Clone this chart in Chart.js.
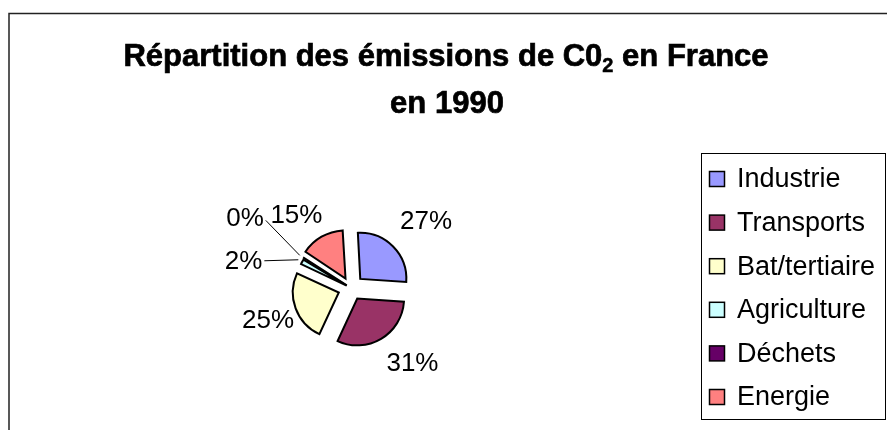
<!DOCTYPE html>
<html>
<head>
<meta charset="utf-8">
<script src="https://cdn.jsdelivr.net/npm/chart.js@4.4.1/dist/chart.umd.min.js"></script>
<style>
  html, body { margin: 0; padding: 0; background: #fff; }
  #wrap { width: 887px; height: 430px; }
</style>
</head>
<body>
<div id="wrap"><canvas id="chart" width="887" height="430"></canvas></div>
<script>
// data
const categories = ['Industrie', 'Transports', 'Bat/tertiaire', 'Agriculture', 'Déchets', 'Energie'];
const emissions = [27, 31, 25, 2, 0.4, 15];
const sliceColors = ['#9999FF', '#993366', '#FFFFCC', '#CCFFFF', '#660066', '#FF8080'];
const titleLine1 = ['Répartition des émissions de C0', '2', ' en France'];
const titleLine2 = 'en 1990';

const FONT = '"Liberation Sans", Arial, sans-serif';

function drawText(ctx, text, x, y, font, align, baseline, heavy) {
  ctx.save();
  ctx.font = font;
  ctx.textAlign = align || 'left';
  ctx.textBaseline = baseline || 'alphabetic';
  ctx.fillStyle = '#000';
  ctx.fillText(text, x, y);
  if (heavy) {
    // title looks heavier in the original
    ctx.strokeStyle = '#000';
    ctx.lineWidth = heavy;
    ctx.strokeText(text, x, y);
  }
  ctx.restore();
}

const framePlugin = {
  id: 'frame',
  beforeDraw(chart) {
    const ctx = chart.ctx;
    ctx.save();
    ctx.strokeStyle = '#222';
    ctx.lineWidth = 1.5;
    ctx.beginPath();
    ctx.moveTo(9, 440);
    ctx.lineTo(9, 13.5);
    ctx.lineTo(900, 13.5);
    ctx.stroke();
    ctx.restore();

    // title, with the subscript 2
    const big = 'bold 31px ' + FONT;
    const small = 'bold 20px ' + FONT;
    ctx.save();
    ctx.font = big;
    const w1 = ctx.measureText(titleLine1[0]).width;
    const w3 = ctx.measureText(titleLine1[2]).width;
    ctx.font = small;
    const w2 = ctx.measureText(titleLine1[1]).width;
    ctx.restore();
    let x = 446 - (w1 + w2 + w3) / 2;
    drawText(ctx, titleLine1[0], x, 66, big, 'left', 'alphabetic', 0.7);
    x += w1;
    drawText(ctx, titleLine1[1], x, 72, small, 'left', 'alphabetic', 0.5);
    x += w2;
    drawText(ctx, titleLine1[2], x, 66, big, 'left', 'alphabetic', 0.7);
    drawText(ctx, titleLine2, 447, 113, big, 'center', 'alphabetic', 0.7);
  }
};

// label placement tweaks: [angle nudge in degrees, distance as multiple of radius]
const labelPlace = [[3, 1.91], [-10, 1.83], [-1, 1.65], null, null, [-8, 1.70]];
// leader lines for the thin slices, from the slice rim
const leaders = { 3: [-34, 1], 4: [-34, -35] };

const labelPlugin = {
  id: 'sliceLabels',
  afterDatasetsDraw(chart) {
    const ctx = chart.ctx;
    const meta = chart.getDatasetMeta(0);
    const sum = emissions.reduce((a, b) => a + b, 0);
    const font = '26px ' + FONT;
    meta.data.forEach((arc, i) => {
      const p = arc.getProps(['x', 'y', 'startAngle', 'endAngle', 'outerRadius', 'circumference'], true);
      const off = (arc.options.offset || 0) / 4;
      const fix = 1 - Math.sin(Math.min(Math.PI, p.circumference));
      const mid = (p.startAngle + p.endAngle) / 2;
      const cx = p.x + Math.cos(mid) * off * (1 + fix);
      const cy = p.y + Math.sin(mid) * off * (1 + fix);
      const r = p.outerRadius + off * fix;
      const text = Math.round(emissions[i] / sum * 100) + '%';
      if (leaders[i]) {
        const ox = cx + Math.cos(mid) * r;
        const oy = cy + Math.sin(mid) * r;
        const ex = ox + leaders[i][0];
        const ey = oy + leaders[i][1];
        ctx.save();
        ctx.strokeStyle = '#000';
        ctx.lineWidth = 1;
        ctx.beginPath();
        ctx.moveTo(ox, oy);
        ctx.lineTo(ex, ey);
        ctx.stroke();
        ctx.restore();
        drawText(ctx, text, ex - 2, i === 4 ? ey - 2 : ey + 1, font, 'right', 'middle');
      } else {
        const a = mid + labelPlace[i][0] * Math.PI / 180;
        const d = p.outerRadius * labelPlace[i][1];
        drawText(ctx, text, cx + Math.cos(a) * d, cy + Math.sin(a) * d + 1, font, 'center', 'middle');
      }
    });
  }
};

const legendPlugin = {
  id: 'boxedLegend',
  afterDraw(chart) {
    const ctx = chart.ctx;
    ctx.save();
    ctx.strokeStyle = '#000';
    ctx.lineWidth = 1;
    ctx.strokeRect(701.5, 153.5, 184, 266);
    categories.forEach((name, i) => {
      const y = 179 + 43.6 * i;
      ctx.fillStyle = sliceColors[i];
      ctx.fillRect(709.5, y - 7.5, 15, 15);
      ctx.lineWidth = 1.5;
      ctx.strokeRect(709.5, y - 7.5, 15, 15);
      drawText(ctx, name, 737, y + 1, '27px ' + FONT, 'left', 'middle');
    });
    ctx.restore();
  }
};

new Chart(document.getElementById('chart'), {
  type: 'pie',
  data: {
    labels: categories,
    datasets: [{
      data: emissions,
      backgroundColor: sliceColors,
      borderColor: '#000',
      borderWidth: 2,
      borderJoinStyle: 'miter',
      offset: [52, 49, 52, 20, 20, 44]
    }]
  },
  options: {
    responsive: false,
    animation: false,
    events: [],
    radius: 46,
    rotation: -3,
    layout: { padding: { left: 251, right: 436, top: 188, bottom: 42 } },
    plugins: {
      legend: { display: false },
      title: { display: false },
      tooltip: { enabled: false }
    }
  },
  plugins: [framePlugin, labelPlugin, legendPlugin]
});
</script>
</body>
</html>
